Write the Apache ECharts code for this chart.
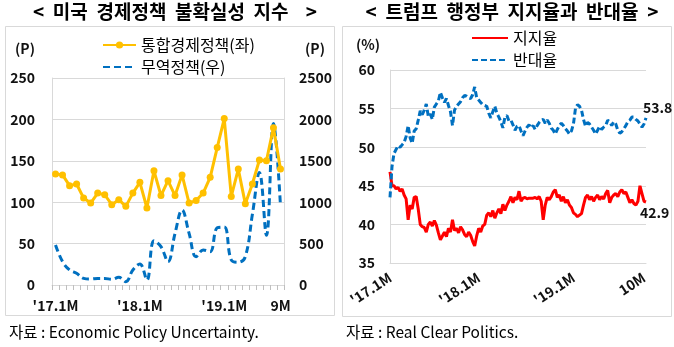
<!DOCTYPE html>
<html>
<head>
<meta charset="utf-8">
<script src="https://cdn.jsdelivr.net/npm/echarts@6/dist/echarts.min.js"></script>
<style>
html,body{margin:0;padding:0;background:#fff;}
#c{width:674px;height:347px;}
</style>
</head>
<body>
<div id="c"></div>
<script>
// ---- Left chart: economic policy uncertainty (monthly, 2017.1 - 2019.9)
const leftCats = ['17.1','17.2','17.3','17.4','17.5','17.6','17.7','17.8','17.9','17.10','17.11','17.12',
  '18.1','18.2','18.3','18.4','18.5','18.6','18.7','18.8','18.9','18.10','18.11','18.12',
  '19.1','19.2','19.3','19.4','19.5','19.6','19.7','19.8','19.9'];
const epuTotal = [134,133,120,122,105,99,111,109,97,103,95,111,124,93,138,108,126,108,133,99,102,111,130,166,201,107,140,98,122,151,150,190,140];
const epuTrade = [483,282,181,141,80,72,80,80,68,93,40,181,254,60,535,463,282,624,906,624,342,423,403,690,700,302,274,342,850,1360,600,1950,955];
const leftTickIdx = [0,12,24,32];
const leftTickText = ["'17.1M","'18.1M","'19.1M","9M"];

// ---- Right chart: Trump approval / disapproval (roughly weekly samples, 2017.1 - 2019.10)
const approve = [46.8,45.0,45.0,44.6,44.8,44.3,44.6,43.8,43.3,40.6,
  42.5,42.0,43.5,43.6,42.0,40.0,39.7,39.6,39.0,40.0,
  40.3,39.8,40.5,39.9,38.9,38.0,38.5,39.0,38.4,39.5,
  39.0,40.6,39.2,39.5,38.9,39.7,39.3,38.7,38.4,39.0,
  38.6,37.8,37.2,38.5,39.5,39.0,39.8,40.0,41.2,41.5,
  41.0,41.8,40.8,41.5,42.0,41.4,42.6,41.8,42.5,43.0,
  43.6,42.8,43.5,43.2,44.3,43.0,43.4,43.5,43.3,43.4,
  43.4,43.4,43.5,43.3,43.6,43.0,40.6,42.5,43.5,43.2,
  43.6,44.2,44.5,43.5,43.8,43.0,43.6,42.8,43.2,42.5,
  42.2,41.5,41.3,41.0,41.2,41.4,42.5,43.5,43.8,43.2,
  43.6,43.0,43.5,43.8,43.2,43.6,43.3,44.0,44.4,42.8,
  43.5,43.8,44.0,43.6,44.2,44.5,44.0,44.2,43.5,42.8,
  43.2,42.7,42.5,43.0,45.0,44.0,43.0,42.9];
const disapprove = [43.5,47.5,49.2,49.7,50.2,50.0,50.3,50.6,51.4,52.8,
  51.2,50.5,52.1,52.4,53.5,54.7,54.2,54.8,55.6,54.0,
  54.3,53.6,55.2,55.6,56.0,57.1,56.4,55.8,56.3,55.4,
  54.6,52.8,54.8,55.3,55.6,55.9,56.4,56.7,56.6,56.4,
  56.3,56.8,57.8,56.4,56.1,55.8,55.5,55.4,55.3,54.4,
  53.8,54.6,55.3,54.4,53.9,53.3,52.5,53.9,54.1,53.4,
  53.5,52.9,52.2,52.7,52.8,52.1,51.5,52.1,52.6,52.9,
  52.5,52.8,52.3,52.8,53.2,53.5,53.6,53.1,53.5,53.1,
  52.5,52.2,51.7,52.3,52.8,53.1,52.8,52.4,52.1,51.7,
  52.1,53.0,55.0,55.5,55.3,54.8,53.6,52.7,53.2,53.0,
  52.6,52.2,51.7,52.2,52.7,52.3,52.6,52.8,53.5,53.3,
  52.8,53.3,53.0,52.2,51.8,52.0,52.4,52.8,53.3,53.5,
  53.9,53.9,53.6,53.4,53.0,52.6,53.0,53.8];
const rightCats = approve.map((_, i) => i);
const rightTickIdx = [0,44,91,126];
const rightTickText = ["'17.1M","'18.1M","'19.1M","10M"];

const FONT = "'Noto Sans CJK KR', 'Noto Sans', sans-serif";
const GRAY = '#d9d9d9';
const axisLab = {fontFamily: FONT, fontSize: 14, fontWeight: 'bold', color: '#111'};
const noSym = {opacity: 0, borderWidth: 0};

const chart = echarts.init(document.getElementById('c'), null, {renderer: 'canvas'});
chart.setOption({
  animation: false,
  backgroundColor: '#fff',
  textStyle: {fontFamily: FONT},
  graphic: [
    {type: 'rect', silent: true, shape: {x: 5.5, y: 26.5, width: 329, height: 289}, style: {fill: 'none', stroke: GRAY, lineWidth: 1}},
    {type: 'rect', silent: true, shape: {x: 342.5, y: 26.5, width: 329, height: 290}, style: {fill: 'none', stroke: GRAY, lineWidth: 1}}
  ],
  title: [
    {text: '<  미국  경제정책  불확실성  지수    >', left: 170, top: -3, textAlign: 'center',
     textStyle: {fontFamily: FONT, fontSize: 19, fontWeight: 'bold', color: '#000'}},
    {text: '<  트럼프  행정부  지지율과  반대율  >', left: 507, top: -3, textAlign: 'center',
     textStyle: {fontFamily: FONT, fontSize: 19, fontWeight: 'bold', color: '#000'}},
    {text: '자료 : Economic Policy Uncertainty.', left: 4, top: 319,
     textStyle: {fontFamily: FONT, fontSize: 15.5, fontWeight: 'normal', color: '#000'}},
    {text: '자료 : Real Clear Politics.', left: 341, top: 319,
     textStyle: {fontFamily: FONT, fontSize: 15.5, fontWeight: 'normal', color: '#000'}}
  ],
  legend: [
    {data: ['통합경제정책(좌)', {name: '무역정책(우)', itemStyle: noSym}], orient: 'vertical', left: 97, top: 32,
     itemWidth: 33, itemHeight: 9, itemGap: 6,
     textStyle: {fontFamily: FONT, fontSize: 16, color: '#000'}},
    {data: [{name: '지지율', itemStyle: noSym}, {name: '반대율', itemStyle: noSym}], orient: 'vertical', left: 466, top: 25,
     itemWidth: 36, itemHeight: 14, itemGap: 6,
     textStyle: {fontFamily: FONT, fontSize: 16, color: '#000'}}
  ],
  grid: [
    {left: 52, right: 390, top: 78, bottom: 62},
    {left: 390, right: 28, top: 70, bottom: 84}
  ],
  xAxis: [
    {gridIndex: 0, type: 'category', data: leftCats, boundaryGap: true,
     axisLine: {lineStyle: {color: GRAY}},
     axisTick: {show: true, interval: 0, length: 5, lineStyle: {color: '#bfbfbf'}},
     axisLabel: Object.assign({}, axisLab, {margin: 14,
       interval: (i) => leftTickIdx.includes(i),
       formatter: (v, i) => leftTickText[leftTickIdx.indexOf(i)] || ''})},
    {gridIndex: 1, type: 'category', data: rightCats, boundaryGap: false,
     axisLine: {lineStyle: {color: GRAY}},
     axisTick: {show: false},
     axisLabel: Object.assign({}, axisLab, {margin: 13, rotate: 33,
       interval: (i) => rightTickIdx.includes(i),
       formatter: (v, i) => rightTickText[rightTickIdx.indexOf(i)] || ''})}
  ],
  yAxis: [
    {gridIndex: 0, type: 'value', position: 'left', min: 0, max: 250, interval: 50,
     name: '(P)', nameLocation: 'end', nameGap: 22,
     nameTextStyle: {fontFamily: FONT, fontSize: 14, fontWeight: 'bold', color: '#111', align: 'right', padding: [0, 17, 0, 0]},
     axisLine: {show: true, lineStyle: {color: GRAY}}, axisTick: {show: false},
     splitLine: {lineStyle: {color: GRAY}},
     axisLabel: Object.assign({}, axisLab, {margin: 17})},
    {gridIndex: 0, type: 'value', position: 'right', min: 0, max: 2500, interval: 500,
     name: '(P)', nameLocation: 'end', nameGap: 22,
     nameTextStyle: {fontFamily: FONT, fontSize: 14, fontWeight: 'bold', color: '#111', align: 'left', padding: [0, 0, 0, 21]},
     axisLine: {show: true, lineStyle: {color: GRAY}}, axisTick: {show: false},
     splitLine: {show: false},
     axisLabel: Object.assign({}, axisLab, {margin: 15, formatter: (v) => String(v)})},
    {gridIndex: 1, type: 'value', min: 35, max: 60, interval: 5,
     name: '(%)', nameLocation: 'end', nameGap: 18,
     nameTextStyle: {fontFamily: FONT, fontSize: 14, fontWeight: 'bold', color: '#111', align: 'right', padding: [0, 10, 0, 0]},
     axisLine: {show: true, lineStyle: {color: GRAY}}, axisTick: {show: false},
     splitLine: {lineStyle: {color: GRAY}},
     axisLabel: Object.assign({}, axisLab, {margin: 15})}
  ],
  series: [
    {name: '통합경제정책(좌)', type: 'line', xAxisIndex: 0, yAxisIndex: 0, data: epuTotal,
     color: '#FFC000', symbol: 'circle', symbolSize: 7, showAllSymbol: true, z: 3,
     lineStyle: {width: 3, color: '#FFC000'}, itemStyle: {color: '#FFC000'}},
    {name: '무역정책(우)', type: 'line', xAxisIndex: 0, yAxisIndex: 1, data: epuTrade,
     color: '#0070C0', symbol: 'none', smooth: 0.4, z: 2,
     lineStyle: {width: 3, color: '#0070C0', type: [7, 4]}},
    {name: '지지율', type: 'line', xAxisIndex: 1, yAxisIndex: 2, data: approve,
     color: '#FF0000', symbol: 'none',
     lineStyle: {width: 3, color: '#FF0000'},
     endLabel: {show: true, formatter: (p) => p.value.toFixed(1), offset: [-14, 11],
       fontFamily: FONT, fontSize: 14, fontWeight: 'bold', color: '#111'}},
    {name: '반대율', type: 'line', xAxisIndex: 1, yAxisIndex: 2, data: disapprove,
     color: '#0070C0', symbol: 'none',
     lineStyle: {width: 3, color: '#0070C0', type: [6, 3]},
     endLabel: {show: true, formatter: (p) => p.value.toFixed(1), offset: [-11, -10],
       fontFamily: FONT, fontSize: 14, fontWeight: 'bold', color: '#111'}}
  ]
});
</script>
</body>
</html>
